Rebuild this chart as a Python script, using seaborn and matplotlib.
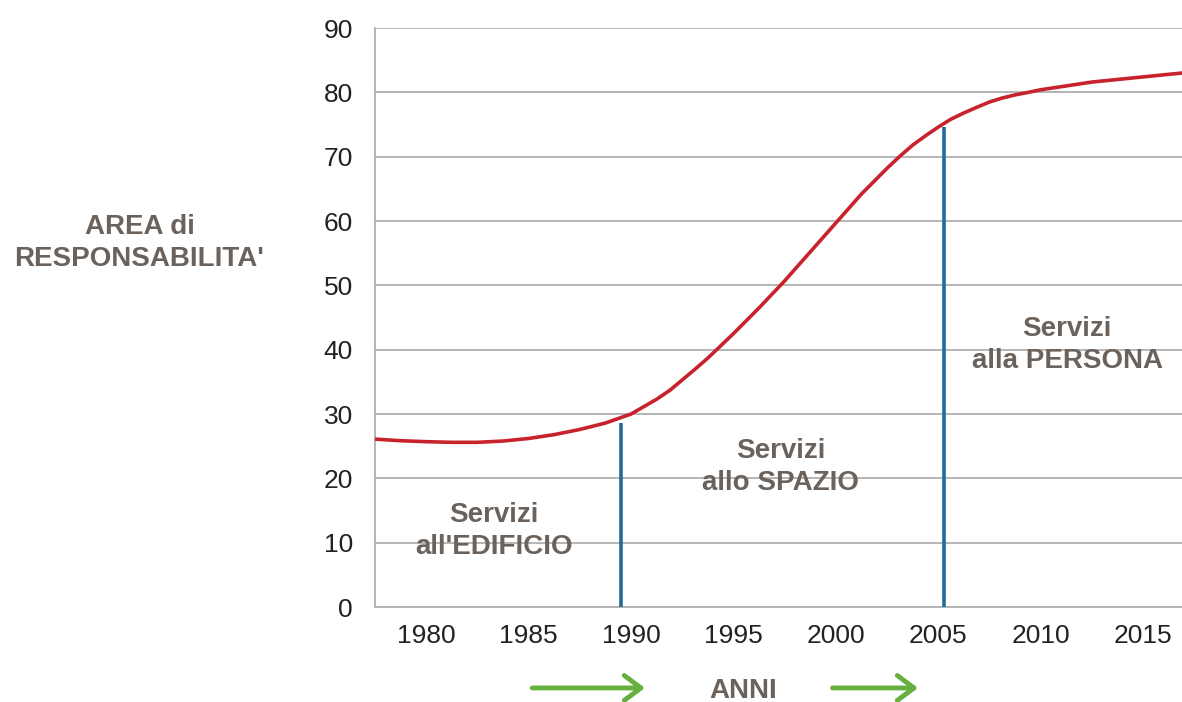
import numpy as np
import pandas as pd
import matplotlib
matplotlib.use('Agg')
import matplotlib.pyplot as plt
import seaborn as sns

# Curve (smooth S-shaped growth)
years = [1977.5, 1978.75, 1980, 1981.25, 1982.5, 1983.75, 1985, 1986.25, 1987.5,
         1988.75, 1990, 1991.25, 1991.9, 1992.5, 1993.1, 1993.75, 1995, 1996.25,
         1997.5, 1998.75, 2000, 2001.25, 2002.5, 2003.1, 2003.75, 2004.4, 2005,
         2005.6, 2006.25, 2006.9, 2007.5, 2008.1, 2008.75, 2009.4, 2010,
         2011.25, 2012.5, 2013.75, 2015, 2016.25, 2016.9]
area = [26.1, 25.85, 25.7, 25.6, 25.6, 25.8, 26.2, 26.8, 27.6,
        28.6, 30.0, 32.3, 33.7, 35.3, 36.9, 38.7, 42.5, 46.5,
        50.7, 55.2, 59.7, 64.2, 68.2, 70.0, 71.8, 73.3, 74.6,
        75.8, 76.8, 77.7, 78.5, 79.1, 79.6, 80.0, 80.4,
        81.0, 81.6, 82.0, 82.4, 82.8, 83.0]

# Phase boundaries (vertical blue lines)
boundary_years = [1989.5, 2005.3]
boundary_tops = [28.6, 74.6]

year_labels = [1980, 1985, 1990, 1995, 2000, 2005, 2010, 2015]
y_ticks = [0, 10, 20, 30, 40, 50, 60, 70, 80, 90]

phase_labels = ["Servizi\nall'EDIFICIO", "Servizi\nallo SPAZIO", "Servizi\nalla PERSONA"]
phase_x = [1983.3, 1997.3, 2011.3]
phase_y = [11.8, 21.8, 40.8]

df = pd.DataFrame({'anno': years, 'area': area})

sns.set_style('white')
plt.rcParams['font.family'] = ['Liberation Sans', 'DejaVu Sans']

text_col = '#6b625c'
grid_col = '#b0b0b0'

fig = plt.figure(figsize=(11.82, 7.02), dpi=100)
ax = fig.add_axes([0.3173, 0.1353, 0.6827, 0.8248])

ax.set_ylim(0, 90)
ax.set_xlim(1977.5, 2016.9)
ax.set_yticks(y_ticks)
ax.yaxis.grid(True, color=grid_col, linewidth=1.3)
ax.set_axisbelow(True)

ax.vlines(boundary_years, 0, boundary_tops, color='#236b96', linewidth=2.6, zorder=3)
sns.lineplot(data=df, x='anno', y='area', ax=ax, color='#c8232c', linewidth=2.6,
             zorder=4, legend=False)

for s in ['top', 'right']:
    ax.spines[s].set_visible(False)
for s in ['left', 'bottom']:
    ax.spines[s].set_color(grid_col)
    ax.spines[s].set_linewidth(1.3)

ax.set_xticks(year_labels)
ax.set_xticklabels([str(y) for y in year_labels])
ax.set_xticks(np.arange(1977.5, 2016, 5), minor=True)
ax.tick_params(axis='x', which='major', length=0, pad=12, labelsize=19, labelcolor='#222222')
ax.tick_params(axis='x', which='minor', length=6, width=1.3, color=grid_col, direction='out')
ax.tick_params(axis='y', length=7, width=1.3, color=grid_col, pad=9, labelsize=19,
               labelcolor='#222222')
ax.set_xlabel('')
ax.set_ylabel('')

for lab, x, y in zip(phase_labels, phase_x, phase_y):
    ax.text(x, y, lab, ha='center', va='center', fontsize=20, fontweight='bold',
            color=text_col, linespacing=1.3)

fig.text(0.118, 0.654, "AREA di\nRESPONSABILITA'", ha='center', va='center',
         fontsize=20, fontweight='bold', color=text_col, linespacing=1.3)
fig.text(0.629, 0.006, 'ANNI', ha='center', va='baseline', fontsize=20,
         fontweight='bold', color=text_col)

arrow_style = dict(arrowstyle='->,head_length=0.6,head_width=0.45', color='#66b03f',
                   lw=3.5, mutation_scale=20)
fig.add_artist(matplotlib.patches.FancyArrowPatch((0.448, 0.02), (0.548, 0.02),
               transform=fig.transFigure, **arrow_style))
fig.add_artist(matplotlib.patches.FancyArrowPatch((0.702, 0.02), (0.779, 0.02),
               transform=fig.transFigure, **arrow_style))

fig.savefig('out.png', dpi=100)
